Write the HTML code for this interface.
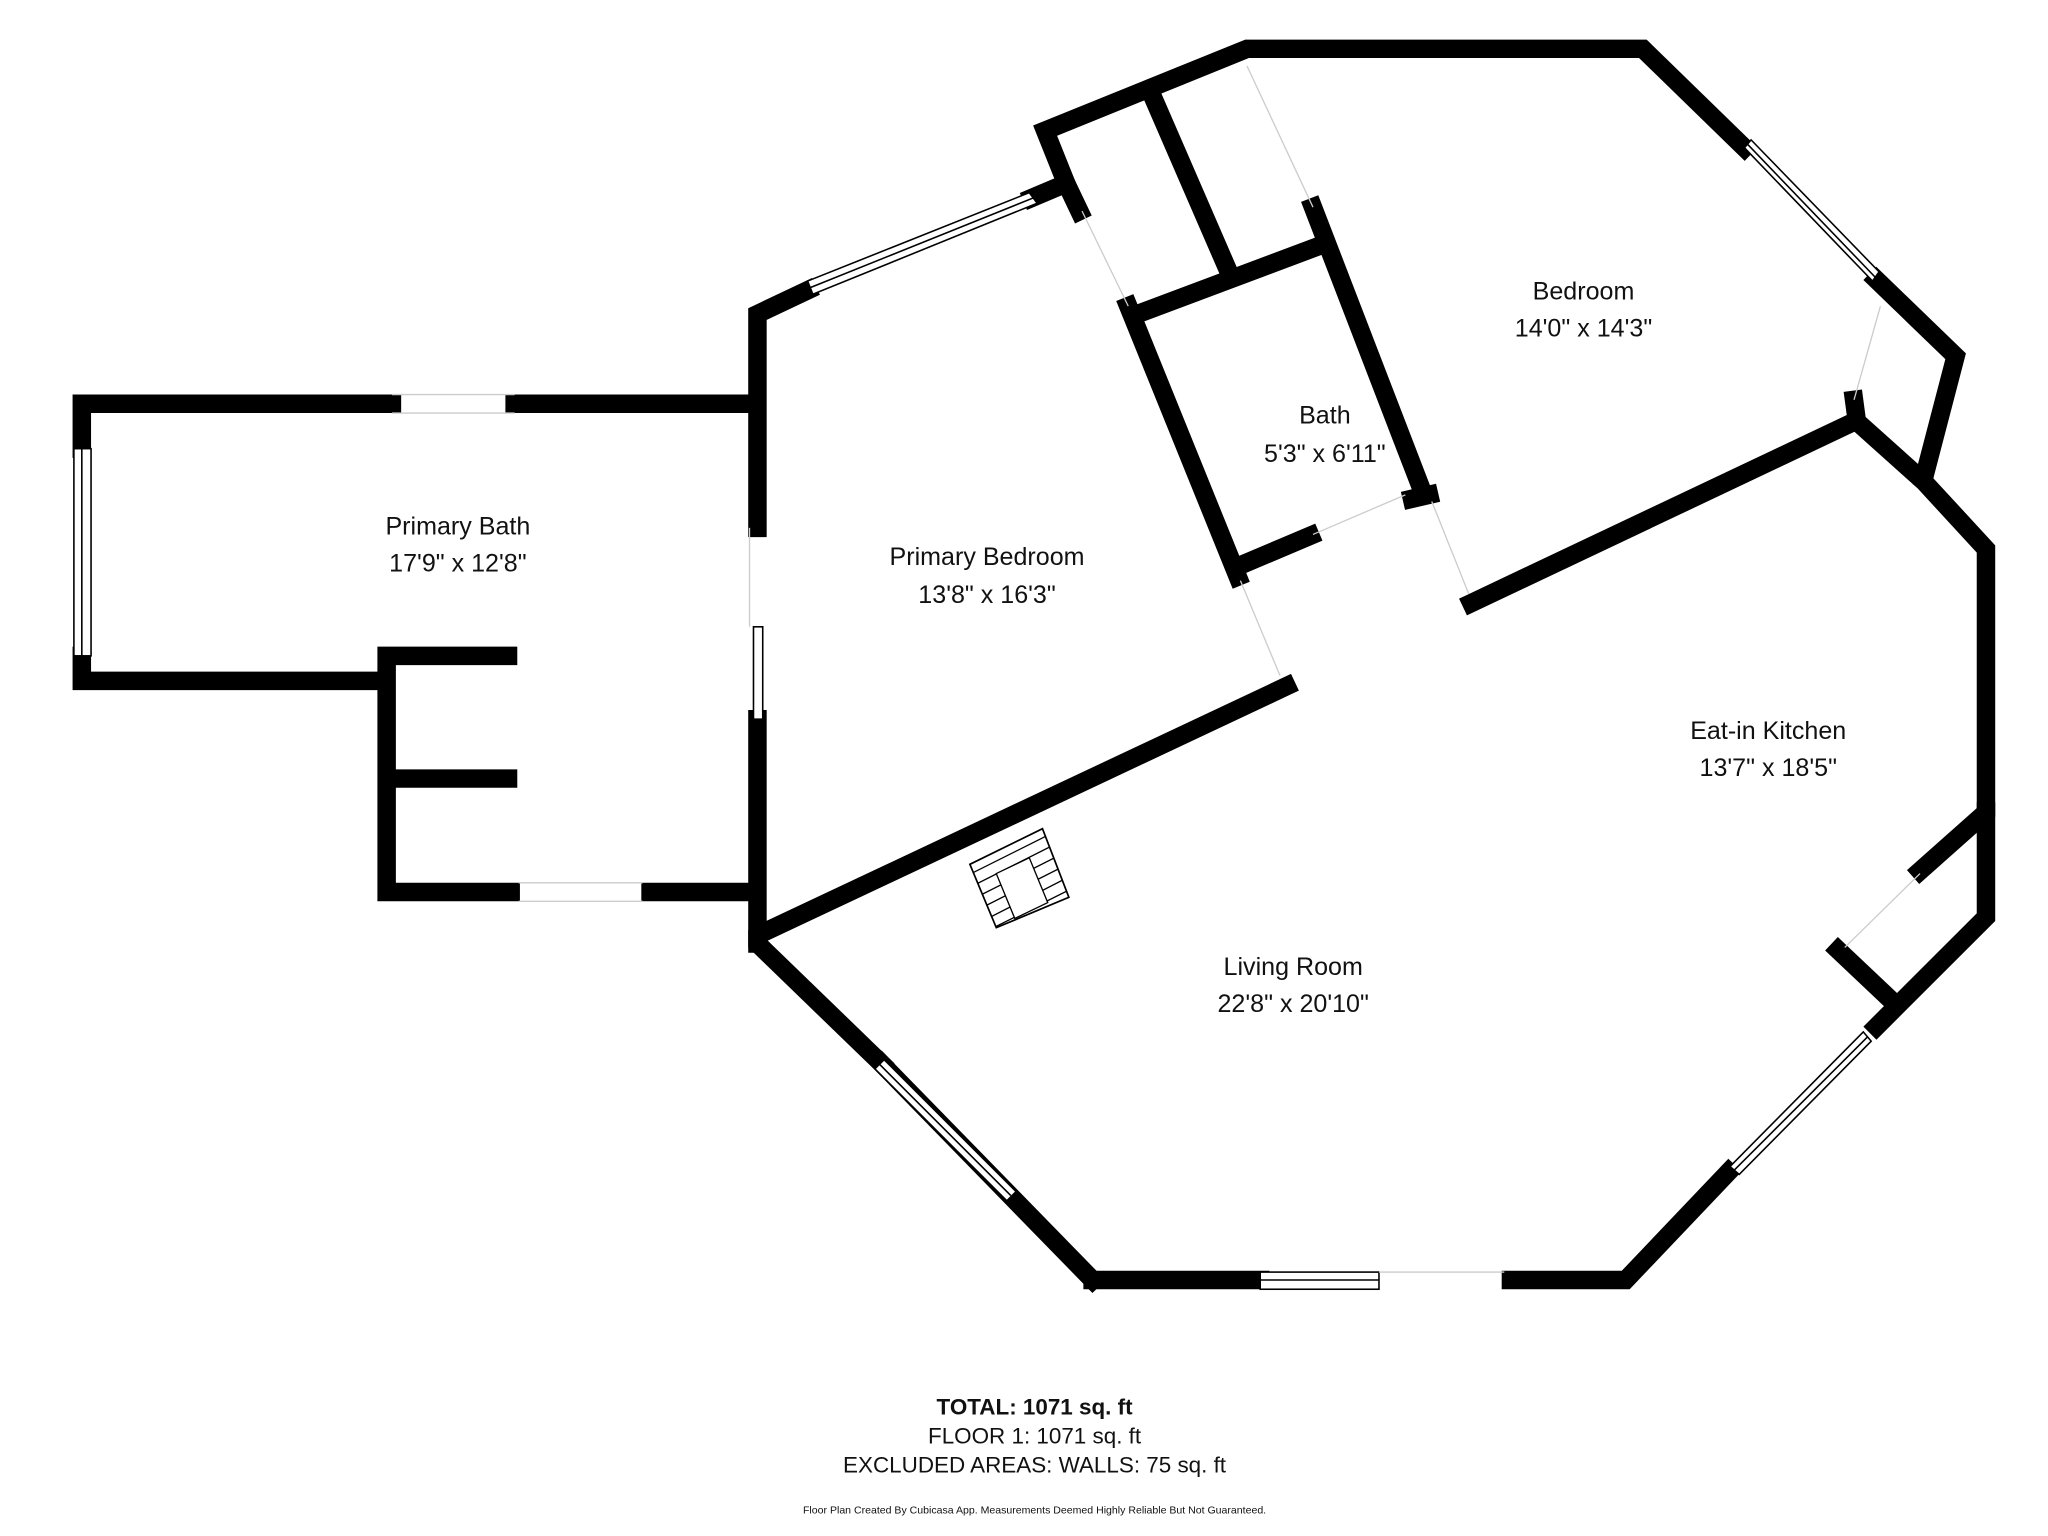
<!DOCTYPE html>
<html><head><meta charset="utf-8"><style>
html,body{margin:0;padding:0;background:#fff;width:2048px;height:1536px;overflow:hidden}
svg{display:block}
text{font-family:"Liberation Sans",sans-serif;fill:#111}
</style></head><body>
<svg width="2048" height="1536" viewBox="0 0 1552 1164" preserveAspectRatio="none" xmlns="http://www.w3.org/2000/svg">
<defs><clipPath id="fp"><polygon points="735,655 790,628 810,680 755,703"/></clipPath></defs>
<g stroke="#000" stroke-width="14" fill="none" stroke-linecap="square" stroke-linejoin="miter">
<polyline points="297,306 62,306 62,340"/>
<line x1="390" y1="306" x2="572" y2="306"/>
<polyline points="62,497 62,516 290,516"/>
<polyline points="385,497 293,497 293,676 387,676"/>
<line x1="300" y1="590" x2="385" y2="590"/>
<line x1="493" y1="676" x2="572" y2="676"/>
<polyline points="574,400 574,238 612,220"/>
<line x1="574" y1="545" x2="574" y2="715"/>
<polyline points="782,150 808,139 792,99 945,37 1245,37 1322,112"/>
<polyline points="1422,212 1482,270 1458,362"/>
<polyline points="1410,322 1458,365 1505,416 1505,612"/>
<polyline points="1505,615 1505,695 1422,778"/>
<polyline points="1310,888 1232,970 1145,970"/>
<line x1="955" y1="970" x2="828" y2="970"/>
<polyline points="828,970 668,806"/>
<polyline points="574,712 574,715 668,806"/>
<line x1="808" y1="139" x2="818" y2="160"/>
<line x1="873" y1="72" x2="932" y2="208"/>
<line x1="862" y1="238" x2="998" y2="187"/>
<line x1="995" y1="157" x2="1077" y2="370"/>
<line x1="855" y1="232" x2="938" y2="437"/>
<line x1="941" y1="428" x2="993" y2="406"/>
<line x1="1070" y1="378" x2="1083" y2="375"/>
<line x1="1115" y1="457" x2="1400" y2="322"/>
<line x1="1405" y1="303" x2="1407" y2="318"/>
<line x1="975" y1="520" x2="580" y2="706"/>
<line x1="1455" y1="660" x2="1500" y2="620"/>
<line x1="1393" y1="720" x2="1430" y2="755"/>
</g>
<g stroke="#000" stroke-width="1.2" fill="#fff">
<rect x="56" y="340" width="13" height="157"/>
<line x1="62" y1="340" x2="62" y2="497"/>
<rect x="571" y="475" width="7" height="70"/>
<polygon points="612,213 780,146 786,154 616,223"/>
<line x1="614" y1="218" x2="783" y2="150"/>
<polygon points="1322,112 1327,106 1424,206 1419,213"/>
<line x1="1324" y1="109" x2="1421" y2="210"/>
<polygon points="1412,782 1418,789 1318,890 1311,884"/>
<line x1="1415" y1="786" x2="1314" y2="887"/>
<polygon points="663,810 670,803 770,903 763,910"/>
<line x1="666" y1="806" x2="766" y2="906"/>
<rect x="955" y="964" width="90" height="13"/>
<line x1="955" y1="970" x2="1045" y2="970"/>
</g>
<g stroke="#ccc" stroke-width="1" fill="none">
<line x1="297" y1="299" x2="390" y2="299"/><line x1="297" y1="313" x2="390" y2="313"/>
<line x1="393" y1="669" x2="487" y2="669"/><line x1="393" y1="683" x2="487" y2="683"/>
<line x1="1045" y1="964" x2="1140" y2="964"/>
<line x1="945" y1="50" x2="995" y2="157"/>
<line x1="820" y1="160" x2="855" y2="232"/>
<line x1="940" y1="440" x2="970" y2="512"/>
<line x1="1085" y1="380" x2="1113" y2="450"/>
<line x1="995" y1="405" x2="1065" y2="375"/>
<line x1="1425" y1="232" x2="1405" y2="303"/>
<line x1="1455" y1="662" x2="1398" y2="718"/>
<line x1="568" y1="400" x2="568" y2="475"/>
</g>
<g stroke="#000" stroke-width="1" fill="none">
<g clip-path="url(#fp)">
<line x1="720" y1="660" x2="800" y2="620"/><line x1="720" y1="670" x2="810" y2="625"/>
<line x1="720" y1="680" x2="815" y2="632"/><line x1="720" y1="690" x2="815" y2="642"/>
<line x1="720" y1="700" x2="815" y2="652"/><line x1="725" y1="708" x2="815" y2="662"/>
<line x1="735" y1="712" x2="815" y2="672"/>
</g>
<polygon points="755,662 780,650 794,684 769,696" fill="#fff"/>
<polygon points="735,655 790,628 810,680 755,703" stroke-width="1.3"/>
</g>
<g text-anchor="middle" font-size="19">
<text x="347" y="405">Primary Bath</text><text x="347" y="433">17'9" x 12'8"</text>
<text x="748" y="428">Primary Bedroom</text><text x="748" y="457">13'8" x 16'3"</text>
<text x="1200" y="227">Bedroom</text><text x="1200" y="255">14'0" x 14'3"</text>
<text x="1004" y="321">Bath</text><text x="1004" y="350">5'3" x 6'11"</text>
<text x="1340" y="560">Eat-in Kitchen</text><text x="1340" y="588">13'7" x 18'5"</text>
<text x="980" y="739">Living Room</text><text x="980" y="767">22'8" x 20'10"</text>
<text x="784" y="1072" font-weight="bold" font-size="17">TOTAL: 1071 sq. ft</text>
<text x="784" y="1094" font-size="17">FLOOR 1: 1071 sq. ft</text>
<text x="784" y="1116" font-size="17">EXCLUDED AREAS: WALLS: 75 sq. ft</text>
<text x="784" y="1147" font-size="8">Floor Plan Created By Cubicasa App. Measurements Deemed Highly Reliable But Not Guaranteed.</text>
</g>
</svg>
</body></html>
